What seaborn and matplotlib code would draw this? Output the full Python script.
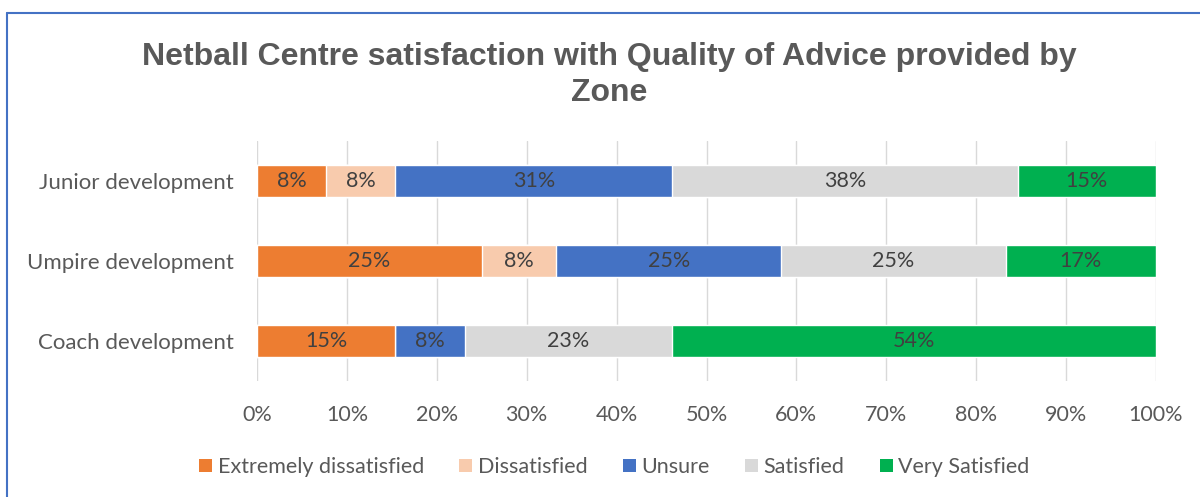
import matplotlib
matplotlib.use("Agg")
import matplotlib.pyplot as plt
import seaborn as sns
import pandas as pd
import numpy as np
from matplotlib.patches import Patch
from matplotlib.lines import Line2D

categories = ["Junior development", "Umpire development", "Coach development"]
series_names = ["Extremely dissatisfied", "Dissatisfied", "Unsure", "Satisfied", "Very Satisfied"]
extremely_dissatisfied = [7.7, 25.0, 15.4]
dissatisfied = [7.7, 8.3, 0.0]
unsure = [30.8, 25.0, 7.7]
satisfied = [38.4, 25.0, 23.1]
very_satisfied = [15.4, 16.7, 53.8]
x_ticks = [0, 10, 20, 30, 40, 50, 60, 70, 80, 90, 100]
x_tick_labels = [f"{t}%" for t in x_ticks]
title = "Netball Centre satisfaction with Quality of Advice provided by\nZone"

colors = ["#ED7D31", "#F8CBAD", "#4472C4", "#D9D9D9", "#00B050"]

sns.set_theme(style="white")
plt.rcParams["font.family"] = ["Lato", "DejaVu Sans"]

series = [extremely_dissatisfied, dissatisfied, unsure, satisfied, very_satisfied]
df = pd.DataFrame({name: vals for name, vals in zip(series_names, series)})
df["Category"] = categories
cum = df[series_names].cumsum(axis=1)

fig = plt.figure(figsize=(12, 4.97), dpi=100)
ax = fig.add_axes([0.2142, 0.2334, 0.7491, 0.4829])

for i in range(len(series_names) - 1, -1, -1):
    d = pd.DataFrame({"Category": categories, "value": cum[series_names[i]].values})
    sns.barplot(data=d, y="Category", x="value", orient="h", color=colors[i],
                width=0.4, saturation=1, ax=ax, order=categories, zorder=3)

# data labels
for r, cat in enumerate(categories):
    left = 0.0
    for i, name in enumerate(series_names):
        v = df.loc[r, name]
        if v > 0:
            ax.text(left + v / 2, r, f"{round(v)}%", ha="center", va="center",
                    fontsize=15.5, color="#404040", zorder=5)
        left += v

ax.set_xlim(0, 100)
ax.set_ylim(2.5, -0.5)
ax.set_xticks(x_ticks)
ax.set_xticklabels(x_tick_labels)
ax.set_xlabel("")
ax.set_ylabel("")
ax.grid(axis="x", color="#D9D9D9", linewidth=1, zorder=0)
ax.set_axisbelow(True)
for s in ax.spines.values():
    s.set_visible(False)
ax.tick_params(axis="x", length=4, color="#D9D9D9", labelsize=15.5, pad=13)
ax.tick_params(axis="y", length=0, labelsize=16, pad=17)
for lbl in ax.get_xticklabels() + ax.get_yticklabels():
    lbl.set_color("#595959")

fig.text(0.508, 0.915, title, ha="center", va="top", fontsize=23, fontweight="bold",
         color="#595959", family=["Liberation Sans", "DejaVu Sans"], linespacing=1.27)

handles = [Patch(facecolor=c, edgecolor="none") for c in colors]
fig.legend(handles, series_names, loc="center", bbox_to_anchor=(0.512, 0.06), ncol=5,
           frameon=False, fontsize=15.5, handlelength=0.6, handleheight=0.6,
           handletextpad=0.25, columnspacing=1.65, labelcolor="#595959")

# chart frame (top and left visible)
fig.add_artist(Line2D([0.006, 0.006], [0.0, 0.973], transform=fig.transFigure, color="#4472C4", linewidth=1.5))
fig.add_artist(Line2D([0.006, 1.0], [0.973, 0.973], transform=fig.transFigure, color="#4472C4", linewidth=1.5))

fig.savefig("out.png", dpi=100, facecolor="white")
